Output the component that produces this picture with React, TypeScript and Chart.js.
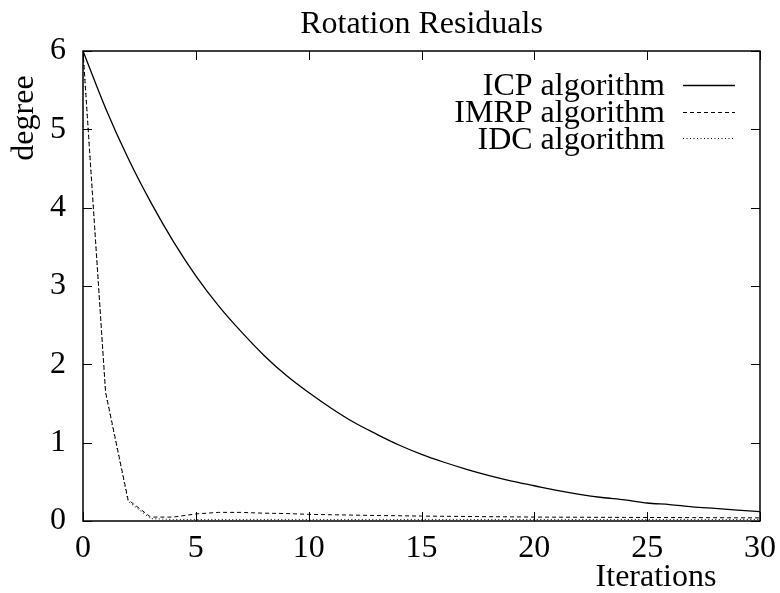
import React, { useEffect, useRef } from "react";
import { Chart, registerables } from "chart.js";

Chart.register(...registerables);

const iterations = [0, 1, 2, 3, 4, 5, 6, 7, 8, 9, 10, 11, 12, 13, 14, 15, 16, 17, 18, 19, 20, 21, 22, 23, 24, 25, 26, 27, 28, 29, 30];
const icpValues = [6.0, 5.27, 4.63, 4.07, 3.57, 3.13, 2.75, 2.42, 2.12, 1.86, 1.64, 1.44, 1.26, 1.11, 0.97, 0.85, 0.75, 0.66, 0.58, 0.51, 0.45, 0.39, 0.34, 0.3, 0.27, 0.23, 0.21, 0.18, 0.16, 0.14, 0.12];
const imrpValues = [6.0, 1.65, 0.27, 0.05, 0.05, 0.09, 0.11, 0.11, 0.1, 0.095, 0.085, 0.08, 0.075, 0.07, 0.067, 0.063, 0.06, 0.058, 0.055, 0.053, 0.05, 0.049, 0.048, 0.047, 0.046, 0.045, 0.044, 0.043, 0.042, 0.041, 0.04];
const idcValues = [6.0, 1.63, 0.25, 0.03, 0.02, 0.02, 0.02, 0.02, 0.02, 0.02, 0.02, 0.02, 0.02, 0.02, 0.02, 0.02, 0.02, 0.02, 0.02, 0.02, 0.02, 0.02, 0.02, 0.02, 0.02, 0.02, 0.02, 0.02, 0.02, 0.02, 0.02];
const seriesLabels = ["ICP algorithm", "IMRP algorithm", "IDC algorithm"];
const xTickValues = [0, 5, 10, 15, 20, 25, 30];
const yTickValues = [0, 1, 2, 3, 4, 5, 6];
const chartTitle = "Rotation Residuals";
const xAxisTitle = "Iterations";
const yAxisTitle = "degree";

const FONT = "'Liberation Serif', 'Times New Roman', serif";
const seriesDashes: number[][] = [[], [4, 3], [1, 2.5]];
const seriesWidths = [1.3, 1, 1];

const gnuplotPlugin = {
  id: "gnuplotFrame",
  afterDraw(chart: any) {
    const { ctx, chartArea } = chart;
    const { left, right, top, bottom } = chartArea;
    const xs = chart.scales.x;
    const ys = chart.scales.y;
    ctx.save();
    ctx.strokeStyle = "#000";
    ctx.lineWidth = 1.5;
    ctx.setLineDash([]);
    ctx.strokeRect(left, top, right - left, bottom - top);
    const tl = 9;
    ctx.lineWidth = 1;
    ctx.beginPath();
    xTickValues.forEach((v) => {
      const px = Math.round(xs.getPixelForValue(v)) + 0.5;
      ctx.moveTo(px, bottom);
      ctx.lineTo(px, bottom - tl);
      ctx.moveTo(px, top);
      ctx.lineTo(px, top + tl);
    });
    yTickValues.forEach((v) => {
      const py = Math.round(ys.getPixelForValue(v)) + 0.5;
      ctx.moveTo(left, py);
      ctx.lineTo(left + tl, py);
      ctx.moveTo(right, py);
      ctx.lineTo(right - tl, py);
    });
    ctx.stroke();

    ctx.fillStyle = "#000";
    ctx.font = `32px ${FONT}`;
    ctx.textBaseline = "alphabetic";
    ctx.textAlign = "center";
    ctx.fillText(chartTitle, (left + right) / 2, 33);
    ctx.fillText(xAxisTitle, 656, 586);
    ctx.save();
    ctx.translate(33, 118);
    ctx.rotate(-Math.PI / 2);
    ctx.textAlign = "center";
    ctx.fillText(yAxisTitle, 0, 0);
    ctx.restore();

    const baselines = [95, 122, 149];
    const sampleY = [85, 112, 138];
    seriesLabels.forEach((lab, i) => {
      ctx.textAlign = "right";
      ctx.fillText(lab, 665, baselines[i]);
      ctx.beginPath();
      ctx.setLineDash(seriesDashes[i]);
      ctx.lineWidth = seriesWidths[i];
      ctx.moveTo(683, sampleY[i] + 0.5);
      ctx.lineTo(735, sampleY[i] + 0.5);
      ctx.stroke();
    });
    ctx.restore();
  },
};

export default function App() {
  const ref = useRef<HTMLCanvasElement | null>(null);
  useEffect(() => {
    if (!ref.current) return;
    const seriesValues = [icpValues, imrpValues, idcValues];
    const chart = new Chart(ref.current, {
      type: "line",
      data: {
        datasets: seriesValues.map((vals, i) => ({
          label: seriesLabels[i],
          data: iterations.map((x, j) => ({ x, y: vals[j] })),
          borderColor: "#000",
          borderWidth: seriesWidths[i],
          borderDash: seriesDashes[i],
          pointRadius: 0,
          fill: false,
          cubicInterpolationMode: i === 0 ? "monotone" : "default",
          tension: 0,
        })),
      },
      options: {
        animation: false,
        responsive: false,
        maintainAspectRatio: false,
        layout: { padding: { top: 51, right: 20, left: 0, bottom: 0 } },
        plugins: { legend: { display: false }, title: { display: false }, tooltip: { enabled: false } },
        scales: {
          x: {
            type: "linear",
            min: 0,
            max: 30,
            afterFit: (s: any) => { s.height = 72; s.paddingRight = 0; s.paddingLeft = 0; },
            afterBuildTicks: (s: any) => { s.ticks = xTickValues.map((v) => ({ value: v })); },
            grid: { display: false, drawTicks: false },
            border: { display: false },
            ticks: { font: { family: FONT, size: 32 }, color: "#000", padding: 8, maxRotation: 0, autoSkip: false },
          },
          y: {
            type: "linear",
            min: 0,
            max: 6,
            afterFit: (s: any) => { s.width = 83; s.paddingTop = 0; s.paddingBottom = 0; },
            afterBuildTicks: (s: any) => { s.ticks = yTickValues.map((v) => ({ value: v })); },
            grid: { display: false, drawTicks: false },
            border: { display: false },
            ticks: { font: { family: FONT, size: 32 }, color: "#000", padding: 17, autoSkip: false },
          },
        },
      },
      plugins: [gnuplotPlugin],
    } as any);
    return () => chart.destroy();
  }, []);
  return (
    <div style={{ position: "fixed", left: 0, top: 0, width: 780, height: 593, background: "#fff" }}>
      <canvas ref={ref} width={780} height={593} style={{ width: 780, height: 593, display: "block" }} />
    </div>
  );
}
